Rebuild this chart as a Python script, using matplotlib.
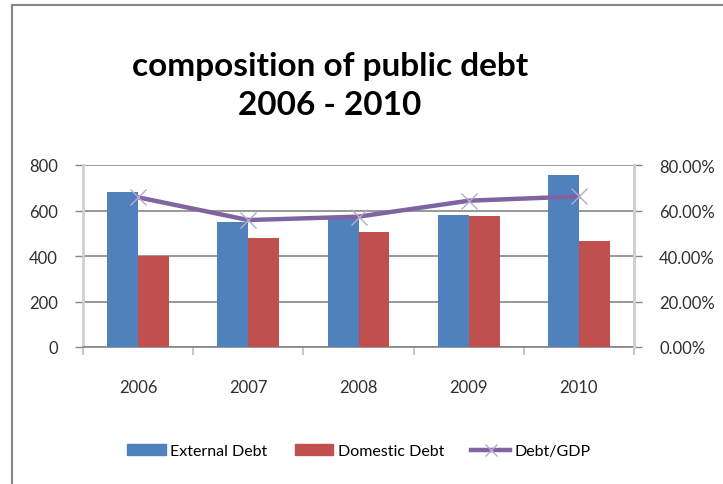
import matplotlib
matplotlib.use("Agg")
import matplotlib.pyplot as plt
import numpy as np
from matplotlib.lines import Line2D

years = ["2006", "2007", "2008", "2009", "2010"]
external_debt = [683, 551, 570, 580, 757]
domestic_debt = [400, 479, 505, 576, 466]
debt_gdp = [0.658, 0.558, 0.573, 0.643, 0.662]
left_ticks = [0, 200, 400, 600, 800]
right_ticks = [0.0, 0.2, 0.4, 0.6, 0.8]

BLUE = "#4F81BD"
RED = "#C0504D"
PURPLE = "#8064A2"
FONT = "Lato"

W, H = 723, 485
fig = plt.figure(figsize=(W / 100, H / 100), dpi=100)
fig.patch.set_facecolor("white")

L, R, T, B = 83, 634, 166, 348
ax = fig.add_axes([L / W, 1 - B / H, (R - L) / W, (B - T) / H])
x = np.arange(len(years))
bw = 0.28
ax.bar(x - bw / 2, external_debt, width=bw, color=BLUE, zorder=3, label="External Debt")
ax.bar(x + bw / 2, domestic_debt, width=bw, color=RED, zorder=3, label="Domestic Debt")
ax.set_xlim(-0.5, len(years) - 0.5)
ax.set_ylim(0, 800)
ax.set_yticks(left_ticks)
ax.set_yticklabels([str(v) for v in left_ticks], fontfamily=FONT, fontsize=12, color="#303030")
ax.yaxis.grid(True, color="#868686", linewidth=1.2, zorder=0)
ax.set_axisbelow(True)
ax.set_xticks(x)
ax.set_xticklabels(years, fontfamily=FONT, fontsize=12, color="#303030")
ax.set_xticks(np.arange(-0.5, len(years)), minor=True)
ax.tick_params(axis="x", which="major", length=0, pad=23)
ax.tick_params(axis="x", which="minor", length=6, color="#c8c8c8", width=1.5)
ax.tick_params(axis="y", length=6, color="#868686", width=1, pad=12)
ax.spines["top"].set_visible(False)
ax.spines["left"].set_color("#d0d0d0")
ax.spines["left"].set_linewidth(2)
ax.spines["right"].set_color("#d0d0d0")
ax.spines["right"].set_linewidth(2)
ax.spines["bottom"].set_color("#868686")
ax.spines["bottom"].set_linewidth(1.2)

ax2 = ax.twinx()
ax2.plot(x, debt_gdp, color=PURPLE, linewidth=3.2, zorder=4, solid_capstyle="round")
ax2.plot(x, debt_gdp, linestyle="none", marker="x", markersize=11, markeredgewidth=1,
         color="#B8A8D0", zorder=5)
ax2.set_ylim(0, 0.8)
ax2.set_yticks(right_ticks)
ax2.set_yticklabels([f"{v*100:.2f}%" for v in right_ticks], fontfamily=FONT, fontsize=12, color="#303030")
ax2.tick_params(axis="y", length=6, color="#868686", width=1, pad=12)
for s in ["top", "left", "bottom"]:
    ax2.spines[s].set_visible(False)
ax2.spines["right"].set_color("#d0d0d0")
ax2.spines["right"].set_linewidth(2)

fig.text(330 / W, 1 - 86 / H, "composition of public debt\n2006 - 2010", ha="center", va="center",
         fontfamily=FONT, fontweight="bold", fontsize=24, linespacing=1.38, color="black")

handles = [
    plt.Rectangle((0, 0), 1, 1, color=BLUE),
    plt.Rectangle((0, 0), 1, 1, color=RED),
    Line2D([0], [0], color=PURPLE, linewidth=3.2, marker="x", markersize=9,
           markeredgecolor="#B8A8D0", markeredgewidth=1),
]
fig.legend(handles, ["External Debt", "Domestic Debt", "Debt/GDP"], loc="center",
           bbox_to_anchor=(359 / W, 1 - 452 / H), ncol=3, frameon=False,
           prop={"family": FONT, "size": 11.5}, handlelength=2.4, handletextpad=0.3,
           columnspacing=1.7)

# chart frame
fig.add_artist(Line2D([12 / W, 12 / W], [0, 1 - 6 / H], color="#868686", linewidth=1.5))
fig.add_artist(Line2D([12 / W, 1], [1 - 6 / H, 1 - 6 / H], color="#868686", linewidth=1.5))

fig.savefig("out.png", dpi=100, facecolor="white")
